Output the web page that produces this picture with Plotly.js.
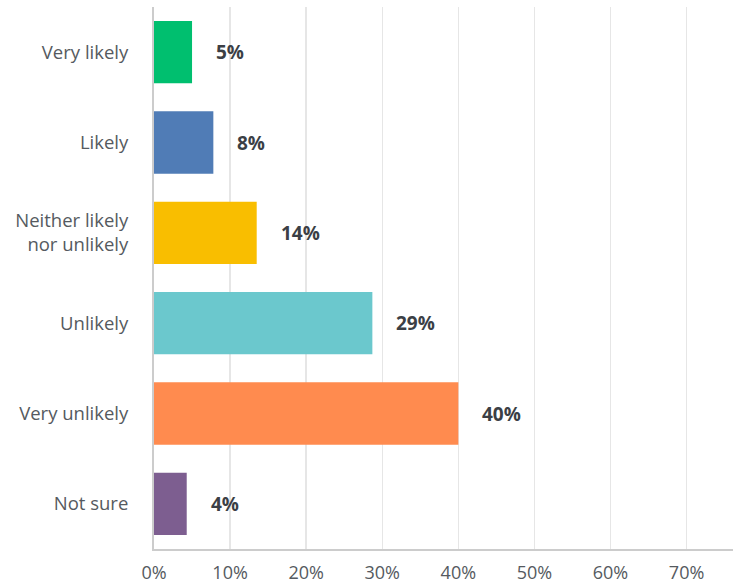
<!DOCTYPE html>
<html><head><meta charset="utf-8">
<script src="https://cdn.plot.ly/plotly-3.0.1.min.js"></script>
<style>html,body{margin:0;padding:0;background:#fff}#chart{width:733px;height:583px}</style>
</head><body><div id="chart"></div>
<script>
const categories = ["Very likely", "Likely", "Neither likely<br>nor unlikely", "Unlikely", "Very unlikely", "Not sure"];
const values = [5.0, 7.8, 13.5, 28.7, 40.0, 4.3];
const labels = ["5%", "8%", "14%", "29%", "40%", "4%"];
const colors = ["#00bf6f", "#507cb6", "#f9be00", "#6bc8cd", "#ff8b4f", "#7d5e90"];
const tickVals = [0, 10, 20, 30, 40, 50, 60, 70];
const tickText = ["0%", "10%", "20%", "30%", "40%", "50%", "60%", "70%"];

const font = "'Open Sans', sans-serif";
const trace = {
  type: "bar", orientation: "h",
  x: values, y: categories,
  marker: {color: colors, line: {width: 0}},
  hoverinfo: "none"
};
const annotations = values.map((v, i) => ({
  x: v, y: categories[i], xref: "x", yref: "y",
  text: "<b>" + labels[i] + "</b>", showarrow: false,
  xanchor: "left", xshift: 22,
  font: {family: font, size: 19, color: "#3b3f45"}
}));
const layout = {
  width: 733, height: 583,
  margin: {l: 154, r: 0, t: 7, b: 34},
  paper_bgcolor: "#fff", plot_bgcolor: "#fff",
  showlegend: false, bargap: 0.31,
  xaxis: {
    range: [0, 76.1], tickvals: tickVals, ticktext: tickText,
    showgrid: true, gridcolor: "#e6e6e6", gridwidth: 1.5,
    showline: true, linecolor: "#cccccc", linewidth: 2,
    zeroline: false, ticks: "", ticklabelstandoff: 6,
    tickfont: {family: font, size: 18, color: "#555a60"}, fixedrange: true
  },
  yaxis: {
    autorange: "reversed", showgrid: false, zeroline: false,
    showline: true, linecolor: "#cccccc", linewidth: 2,
    ticks: "", ticklabelstandoff: 20,
    tickfont: {family: font, size: 18.5, color: "#555a60"}, fixedrange: true
  },
  annotations: annotations
};
Plotly.newPlot("chart", [trace], layout, {displayModeBar: false, staticPlot: true});
</script></body></html>
